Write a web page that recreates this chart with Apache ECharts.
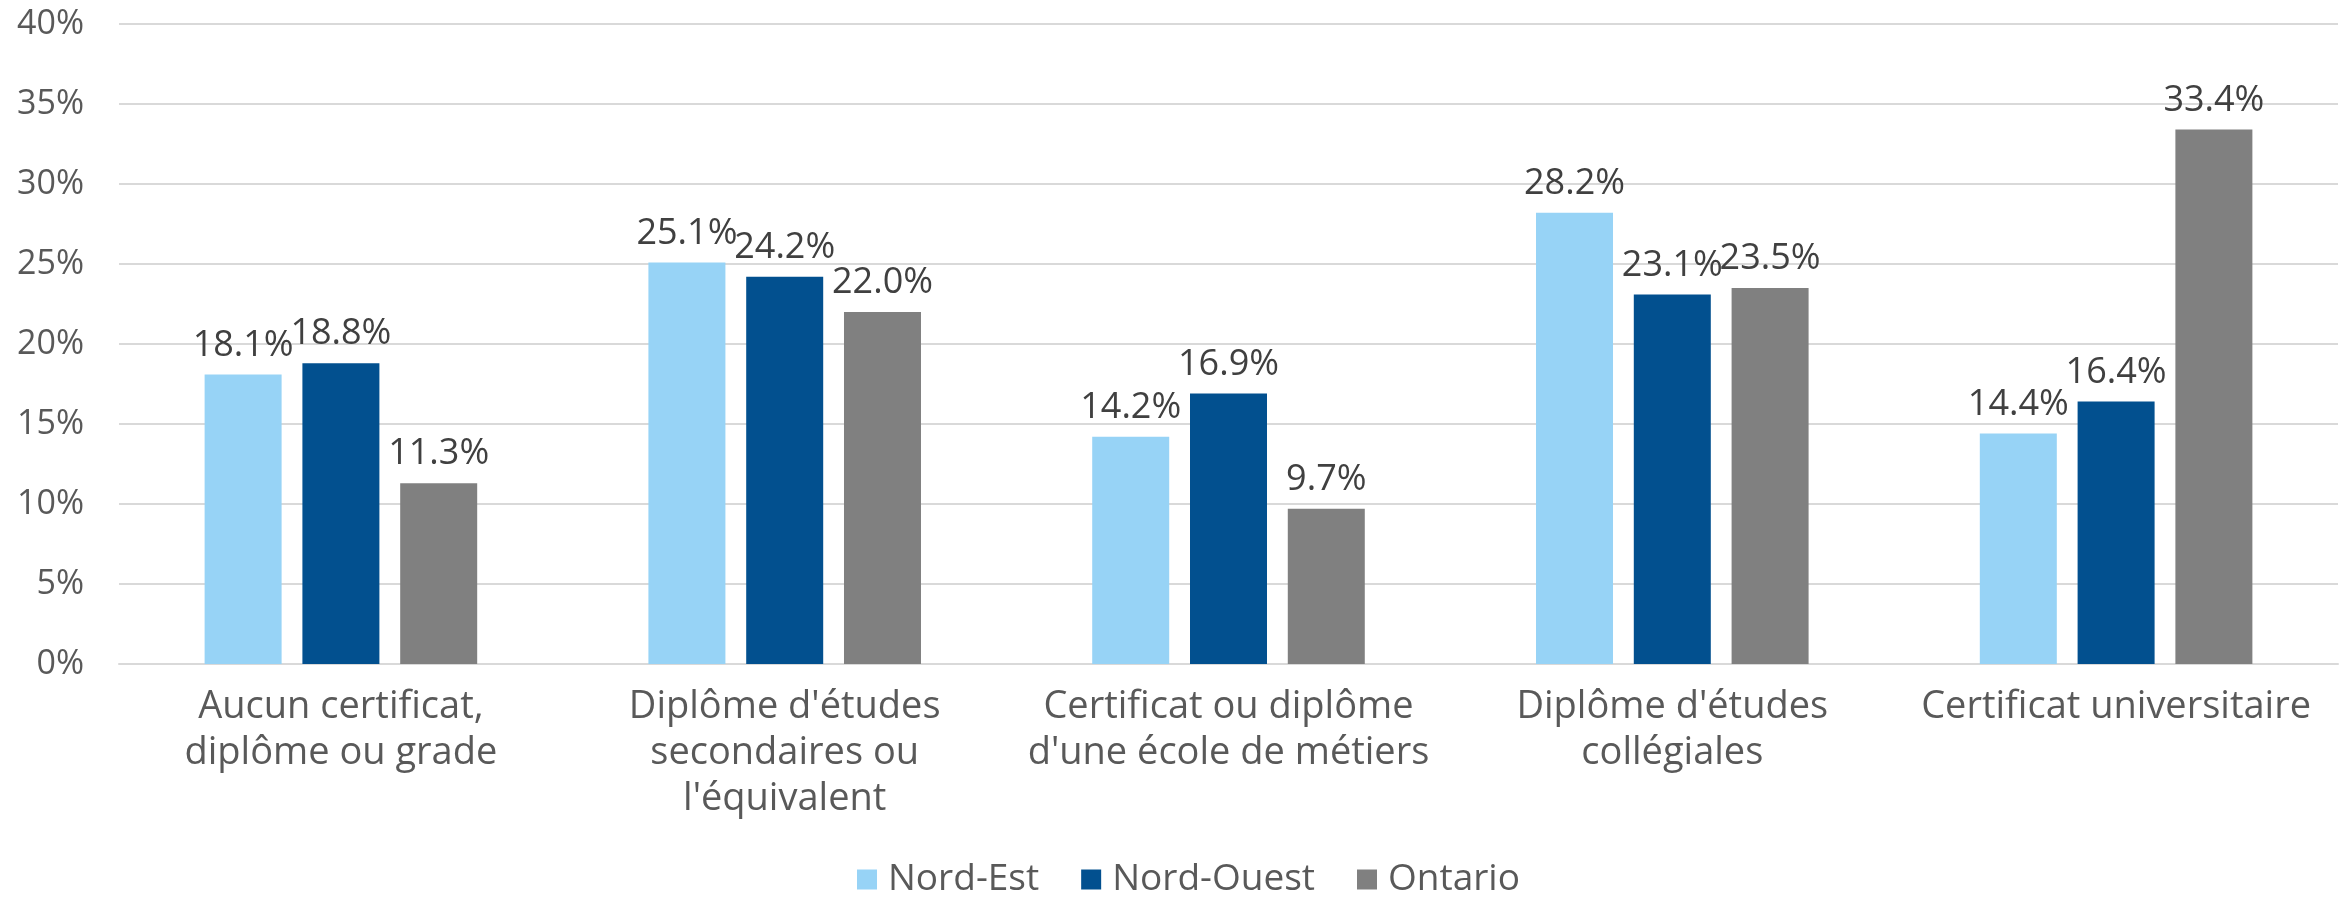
<!doctype html>
<html lang="fr">
  <head>
    <meta charset="UTF-8" />
    <title>Plus haut niveau de scolarité</title>
    <style>
      html,
      body {
        width: 100%;
        height: 100%;
        margin: 0;
        padding: 0;
        background: #fff;
      }
      #Echart {
        width: 100%;
        height: 100%;
      }
    </style>
  </head>

  <body>
    <div id="Echart"></div>
    <script type="text/javascript" src="https://cdn.jsdelivr.net/npm/echarts@6/dist/echarts.min.js"></script>
    <script type="text/javascript">
      const categories = [
        'Aucun certificat,\ndiplôme ou grade',
        "Diplôme d'études\nsecondaires ou\nl'équivalent",
        'Certificat ou diplôme\nd\'une école de métiers',
        "Diplôme d'études\ncollégiales",
        'Certificat universitaire',
      ]
      const seriesNames = ['Nord-Est', 'Nord-Ouest', 'Ontario']
      const nordEst = [18.1, 25.1, 14.2, 28.2, 14.4]
      const nordOuest = [18.8, 24.2, 16.9, 23.1, 16.4]
      const ontario = [11.3, 22.0, 9.7, 23.5, 33.4]
      const colors = ['#97d3f6', '#02508f', '#808080']

      const font = '"Open Sans", Lato, sans-serif'
      const textColor = '#595959'

      let chart = null

      function makeSeries(name, data) {
        return {
          name: name,
          type: 'bar',
          data: data,
          barWidth: 77,
          barGap: '27%',
          label: {
            show: true,
            position: 'top',
            distance: 11,
            formatter: (p) => p.value.toFixed(1) + '%',
            color: '#404040',
            fontSize: 36,
            fontFamily: font,
          },
        }
      }

      function initEchart() {
        const option = {
          animation: false,
          color: colors,
          textStyle: { fontFamily: font },
          grid: {
            left: 119,
            right: 13,
            top: 24,
            bottom: 236,
          },
          legend: {
            bottom: 0,
            left: 857,
            padding: [0, 0, 2, 0],
            itemWidth: 20,
            itemHeight: 20,
            itemGap: 42,
            icon: 'rect',
            textStyle: {
              color: textColor,
              fontSize: 37,
              fontFamily: font,
              padding: [0, 0, 0, 6],
            },
            data: seriesNames,
          },
          xAxis: {
            type: 'category',
            data: categories,
            axisLine: { lineStyle: { color: '#d9d9d9', width: 2 } },
            axisTick: { show: false },
            axisLabel: {
              margin: 20,
              interval: 0,
              color: textColor,
              fontSize: 38,
              lineHeight: 46,
              fontFamily: font,
            },
          },
          yAxis: {
            type: 'value',
            min: 0,
            max: 40,
            interval: 5,
            axisLine: { show: false },
            axisTick: { show: false },
            splitLine: { lineStyle: { color: '#d9d9d9', width: 2 } },
            axisLabel: {
              margin: 35,
              color: textColor,
              fontSize: 34,
              fontFamily: font,
              formatter: '{value}%',
            },
          },
          series: [
            makeSeries(seriesNames[0], nordEst),
            makeSeries(seriesNames[1], nordOuest),
            makeSeries(seriesNames[2], ontario),
          ],
        }
        chart = echarts.init(document.getElementById('Echart'))
        chart.setOption(option)
      }

      window.onload = function () {
        initEchart()
        window.addEventListener('resize', () => {
          chart?.resize()
        })
      }
    </script>
  </body>
</html>
